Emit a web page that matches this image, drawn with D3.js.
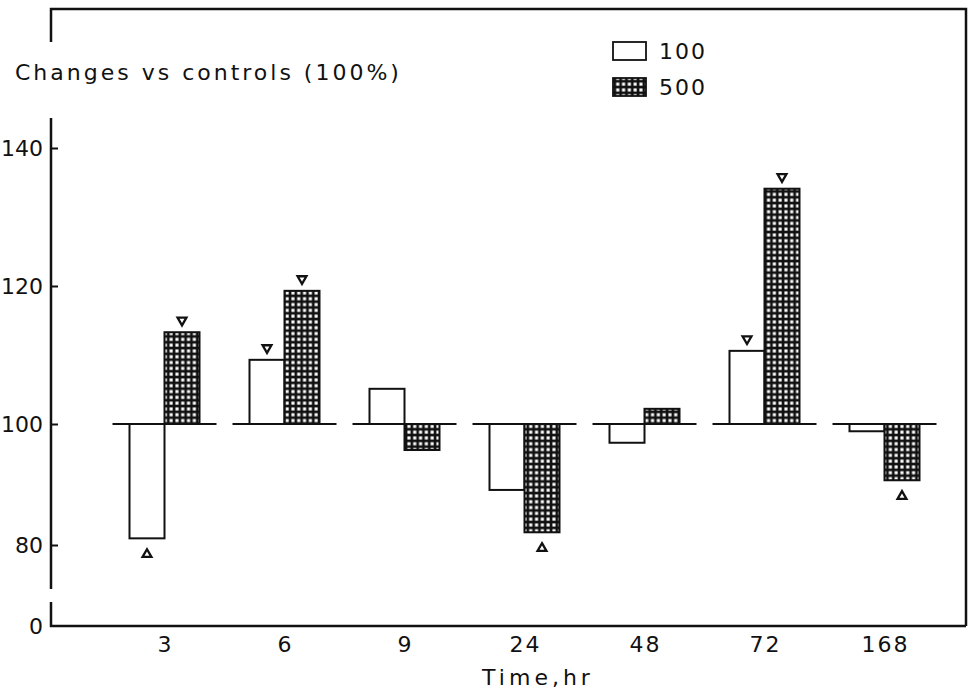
<!DOCTYPE html>
<html>
<head>
<meta charset="utf-8">
<script src="https://cdn.jsdelivr.net/npm/d3@7"></script>
<style>
  html, body { margin: 0; padding: 0; background: #fff; }
  svg text { font-family: "DejaVu Sans", sans-serif; fill: #111; }
</style>
</head>
<body>
<svg id="chart" width="971" height="691"></svg>
<script>
// ---- data ----
const times = ["3", "6", "9", "24", "48", "72", "168"];
const seriesNames = ["100", "500"];
const values100 = [81.1, 109.3, 105.1, 89.1, 96.9, 110.6, 98.8];
const values500 = [113.3, 119.3, 95.7, 82.1, 102.2, 134.1, 90.7];
const yTicks = [80, 100, 120, 140];
// significance markers: time, series
const markTimes = ["3", "3", "6", "6", "24", "72", "72", "168"];
const markSeries = ["100", "500", "100", "500", "500", "100", "500", "500"];

(function () {
const svg = d3.select("#chart");
const mLeft = 51, mRight = 966, mTop = 9, mBottom = 626;

// scales
const x = d3.scaleBand().domain(times).range([104.5, 944.5])
  .paddingInner(16 / 120).paddingOuter(8 / 120);
const xInner = d3.scaleBand().domain(seriesNames).range([0, x.bandwidth()])
  .paddingInner(0).paddingOuter(17 / 35);
// broken axis: piecewise linear (original figure is not uniform below 100)
const y = d3.scaleLinear().domain([80, 100, 140]).range([545, 424, 148]);

// hatch pattern
const defs = svg.append("defs");
const pat = defs.append("pattern").attr("id", "grid")
  .attr("patternUnits", "userSpaceOnUse").attr("width", 5.8).attr("height", 5.8);
pat.append("rect").attr("width", 5.8).attr("height", 5.8).attr("fill", "#111");
pat.append("rect").attr("x", 1.4).attr("y", 1.4).attr("width", 3.1).attr("height", 3.1).attr("fill", "#fff");

// frame
const frame = svg.append("g").attr("stroke", "#111").attr("fill", "none").attr("stroke-width", 2.5);
frame.append("path").attr("d", `M${mLeft},42 V${mTop} H${mRight} V${mBottom}`);
frame.append("path").attr("d", `M${mLeft},602 V${mBottom} H${mRight}`);
frame.append("line").attr("x1", mLeft).attr("x2", mLeft).attr("y1", 118).attr("y2", 589);

// y axis ticks
const yAxis = d3.axisLeft(y).tickValues(yTicks).tickSize(-7).tickPadding(8).tickFormat(d3.format("d"));
const gy = svg.append("g").attr("transform", `translate(${mLeft},0)`).call(yAxis);
gy.select(".domain").remove();
gy.selectAll(".tick line").attr("stroke", "#111").attr("stroke-width", 2);
gy.selectAll(".tick text").attr("font-size", 22).attr("font-family", "DejaVu Sans, sans-serif").attr("fill", "#111");
svg.append("text").attr("x", mLeft - 8).attr("y", mBottom).attr("dy", "0.35em")
  .attr("text-anchor", "end").attr("font-size", 22).text("0");

// x labels
svg.append("g").selectAll("text").data(times).join("text")
  .attr("x", d => x(d) + x.bandwidth() / 2 + 1)
  .attr("y", 652).attr("text-anchor", "middle").attr("font-size", 22)
  .attr("letter-spacing", 2)
  .text(d => d);
svg.append("text").attr("x", 538).attr("y", 685).attr("text-anchor", "middle")
  .attr("font-size", 22).attr("letter-spacing", 4).text("Time,hr");

// y title
svg.append("text").attr("x", 15).attr("y", 80).attr("font-size", 22)
  .attr("letter-spacing", 3)
  .text("Changes vs controls (100%)");

// bars
const rows = [];
times.forEach((t, i) => {
  rows.push({ t, s: "100", v: values100[i] });
  rows.push({ t, s: "500", v: values500[i] });
});

const plot = svg.append("g");
plot.selectAll("rect.bar").data(rows).join("rect").attr("class", "bar")
  .attr("x", d => x(d.t) + xInner(d.s))
  .attr("width", xInner.bandwidth())
  .attr("y", d => Math.min(y(d.v), y(100)))
  .attr("height", d => Math.abs(y(d.v) - y(100)))
  .attr("fill", d => d.s === "500" ? "url(#grid)" : "#fff")
  .attr("stroke", "#111").attr("stroke-width", 2);

// baselines at 100
plot.selectAll("line.base").data(times).join("line").attr("class", "base")
  .attr("x1", d => x(d)).attr("x2", d => x(d) + x.bandwidth())
  .attr("y1", y(100)).attr("y2", y(100))
  .attr("stroke", "#111").attr("stroke-width", 2.2);

// markers
const marks = markTimes.map((t, i) => {
  const s = markSeries[i];
  const v = (s === "100" ? values100 : values500)[times.indexOf(t)];
  return { t, s, v, up: v < 100 };
});
const tri = d3.symbol().type(d3.symbolTriangle).size(34);
plot.selectAll("path.mark").data(marks).join("path").attr("class", "mark")
  .attr("d", tri)
  .attr("transform", d => {
    const cx = x(d.t) + xInner(d.s) + xInner.bandwidth() / 2;
    const cy = d.up ? y(d.v) + 16 : y(d.v) - 12;
    return `translate(${cx},${cy}) rotate(${d.up ? 0 : 180})`;
  })
  .attr("fill", "#fff").attr("stroke", "#111").attr("stroke-width", 2.3);

// legend
const legend = svg.append("g");
const legItems = [{ s: "100", y: 42 }, { s: "500", y: 78 }];
legend.selectAll("rect").data(legItems).join("rect")
  .attr("x", 613).attr("y", d => d.y).attr("width", 33).attr("height", 18)
  .attr("fill", d => d.s === "500" ? "url(#grid)" : "#fff")
  .attr("stroke", "#111").attr("stroke-width", 1.8);
legend.selectAll("text").data(legItems).join("text")
  .attr("x", 659).attr("y", d => d.y + 17).attr("font-size", 22)
  .attr("letter-spacing", 2)
  .text(d => d.s);
})();
</script>
</body>
</html>
